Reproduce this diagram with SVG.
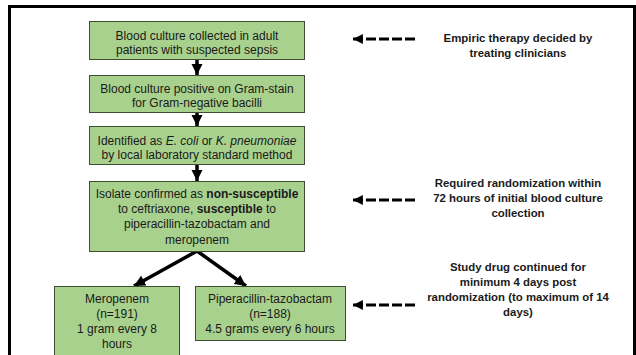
<svg xmlns="http://www.w3.org/2000/svg" width="636" height="355" viewBox="0 0 636 355">
<defs>
<style>
.box{fill:#a9d18e;stroke:#3d4d33;stroke-width:1}
.t{font-family:"Liberation Sans",Arial,sans-serif;font-size:12px;fill:#1a1a1a;text-anchor:middle}
.n{font-family:"Liberation Sans",Arial,sans-serif;font-size:11.4px;font-weight:bold;fill:#1a1a1a;text-anchor:middle}
.a{stroke:#000;stroke-width:3.5;fill:none}
.d{stroke:#000;stroke-width:3;stroke-dasharray:10 3;fill:none}
</style>
<marker id="h" viewBox="0 0 10 10" refX="10" refY="5" markerWidth="3.2" markerHeight="3.2" orient="auto" markerUnits="strokeWidth">
<path d="M0,0 L10,5 L0,10 z" fill="#000"/>
</marker>
<marker id="hd" viewBox="0 0 10 10" refX="10" refY="5" markerWidth="3.3" markerHeight="3.3" orient="auto" markerUnits="strokeWidth">
<path d="M0,0 L10,5 L0,10 z" fill="#000"/>
</marker>
</defs>
<rect x="0" y="0" width="636" height="355" fill="#fff"/>
<path d="M9.5,360 V6.5 H634.5 V360" fill="none" stroke="#000" stroke-width="3"/>
<path d="M634.5,6.5 V360" fill="none" stroke="#000" stroke-width="1.5"/>

<g id="connectors">
<path class="a" d="M197,59 V75" marker-end="url(#h)"/>
<path class="a" d="M197,112 V126" marker-end="url(#h)"/>
<path class="a" d="M197,164 V181" marker-end="url(#h)"/>
<path class="a" d="M197,251 L134,286" marker-end="url(#h)"/>
<path class="a" d="M197,251 L246,286" marker-end="url(#h)"/>
<path class="d" d="M415,39 H353" marker-end="url(#hd)"/>
<path class="d" d="M415,200 H353" marker-end="url(#hd)"/>
<path class="d" d="M415,305 H353" marker-end="url(#hd)"/>
</g>

<g id="n1">
<rect class="box" x="89.5" y="21.5" width="215" height="38"/>
<text class="t" x="197" y="40">Blood culture collected in adult</text>
<text class="t" x="197" y="54">patients with suspected sepsis</text>
</g>
<g id="n2">
<rect class="box" x="89.5" y="75.5" width="215" height="37"/>
<text class="t" x="197" y="93">Blood culture positive on Gram-stain</text>
<text class="t" x="197" y="107">for Gram-negative bacilli</text>
</g>
<g id="n3">
<rect class="box" x="89.5" y="126.5" width="215" height="38"/>
<text class="t" x="197" y="144.5">Identified as <tspan font-style="italic">E. coli</tspan> or <tspan font-style="italic">K. pneumoniae</tspan></text>
<text class="t" x="197" y="158.5">by local laboratory standard method</text>
</g>
<g id="n4">
<rect class="box" x="89.5" y="181.5" width="215" height="70"/>
<text class="t" x="197" y="197.5">Isolate confirmed as <tspan font-weight="bold">non-susceptible</tspan></text>
<text class="t" x="197" y="212.5">to ceftriaxone, <tspan font-weight="bold">susceptible</tspan> to</text>
<text class="t" x="197" y="227.5">piperacillin-tazobactam and</text>
<text class="t" x="197" y="243.5">meropenem</text>
</g>
<g id="n5">
<rect class="box" x="54.5" y="286.5" width="125" height="72"/>
<text class="t" x="117" y="302.5">Meropenem</text>
<text class="t" x="117" y="317.5">(n=191)</text>
<text class="t" x="117" y="332.5">1 gram every 8</text>
<text class="t" x="117" y="347.5">hours</text>
</g>
<g id="n6">
<rect class="box" x="195.5" y="286.5" width="150" height="54"/>
<text class="t" x="270" y="302.5">Piperacillin-tazobactam</text>
<text class="t" x="270" y="317.5">(n=188)</text>
<text class="t" x="270" y="332.5">4.5 grams every 6 hours</text>
</g>
<g id="note1">
<text class="n" x="518" y="42">Empiric therapy decided by</text>
<text class="n" x="518" y="57">treating clinicians</text>
</g>
<g id="note2">
<text class="n" x="518" y="187">Required randomization within</text>
<text class="n" x="518" y="202">72 hours of initial blood culture</text>
<text class="n" x="518" y="217">collection</text>
</g>
<g id="note3">
<text class="n" x="518" y="271">Study drug continued for</text>
<text class="n" x="518" y="286">minimum 4 days post</text>
<text class="n" x="518" y="301">randomization (to maximum of 14</text>
<text class="n" x="518" y="316">days)</text>
</g>
</svg>
